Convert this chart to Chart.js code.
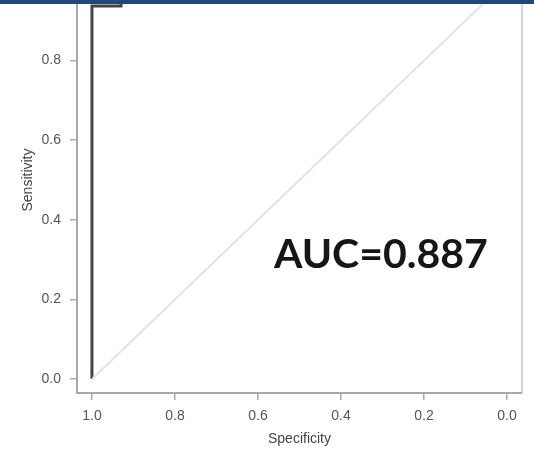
<!DOCTYPE html>
<html>
<head>
<meta charset="utf-8">
<script src="https://cdn.jsdelivr.net/npm/chart.js@4.4.0/dist/chart.umd.min.js"></script>
<style>
  html, body { margin:0; padding:0; background:#fff; overflow:hidden; }
  #wrap { position:relative; width:534px; height:451px; overflow:hidden; }
  #c { position:absolute; left:0; top:-40px; }
  #bar { position:absolute; left:0; top:0; width:534px; height:4px; background:#1f497d; z-index:2; }
</style>
</head>
<body>
<div id="wrap">
  <canvas id="c" width="534" height="491"></canvas>
  <div id="bar"></div>
</div>
<script>
// ROC curve (specificity, sensitivity)
const rocSpecificity = [1.0, 1.0, 0.93, 0.93, 0.0];
const rocSensitivity = [0.0, 0.937, 0.937, 1.0, 1.0];
// reference diagonal
const diagSpecificity = [1.0, 0.0];
const diagSensitivity = [0.0, 1.0];
// tick labels (the 1.0 sensitivity tick lies above the cropped top edge)
const xTicks = [1.0, 0.8, 0.6, 0.4, 0.2, 0.0];
const yTicks = [0.0, 0.2, 0.4, 0.6, 0.8, 1.0];
const aucLabel = "AUC=0.887";
const aucPos = { x: 0.304, y: 0.313 };

const roc = rocSpecificity.map((s, i) => ({ x: s, y: rocSensitivity[i] }));
const diag = diagSpecificity.map((s, i) => ({ x: s, y: diagSensitivity[i] }));

const boxPlugin = {
  id: 'box',
  beforeDatasetsDraw(chart) {
    const a = chart.chartArea, ctx = chart.ctx;
    ctx.save();
    ctx.strokeStyle = '#c8c8c8';
    ctx.lineWidth = 1.5;
    ctx.beginPath();
    ctx.moveTo(a.left, a.top);
    ctx.lineTo(a.right, a.top);
    ctx.lineTo(a.right, a.bottom);
    ctx.stroke();
    ctx.restore();
  },
  afterDatasetsDraw(chart) {
    const ctx = chart.ctx;
    const x = chart.scales.x.getPixelForValue(aucPos.x);
    const y = chart.scales.y.getPixelForValue(aucPos.y);
    ctx.save();
    ctx.font = 'bold 41px Lato, "Open Sans", sans-serif';
    ctx.fillStyle = '#161616';
    ctx.textAlign = 'center';
    ctx.textBaseline = 'middle';
    ctx.fillText(aucLabel, x, y);
    ctx.restore();
  }
};

const tickFont = { family: '"Liberation Sans", Arial, sans-serif', size: 14 };
const titleFont = { family: '"Liberation Sans", Arial, sans-serif', size: 14 };

new Chart(document.getElementById('c'), {
  type: 'scatter',
  data: {
    datasets: [
      { data: diag, showLine: true, borderColor: '#e0e0e0', borderWidth: 1.8, pointRadius: 0 },
      { data: roc, showLine: true, borderColor: '#444', borderWidth: 3, pointRadius: 0 }
    ]
  },
  options: {
    responsive: false,
    animation: false,
    events: [],
    layout: { padding: { top: 7, right: 12, left: 0, bottom: 0 } },
    plugins: { legend: { display: false }, tooltip: { enabled: false } },
    scales: {
      x: {
        type: 'linear', reverse: true, min: -0.036, max: 1.036,
        afterBuildTicks: s => { s.ticks = xTicks.map(v => ({ value: v })); },
        afterFit: s => { s.height = 58; s.paddingLeft = 0; s.paddingRight = 0; },
        ticks: { color: '#555', font: tickFont, padding: 8, maxRotation: 0,
                 callback: v => Number(v).toFixed(1) },
        grid: { display: true, drawOnChartArea: false, drawTicks: true, tickLength: 7,
                color: '#aaa', lineWidth: 1.5 },
        border: { display: true, color: '#a8a8a8', width: 2 },
        title: { display: true, text: 'Specificity', color: '#444', font: titleFont,
                 padding: { top: 0, bottom: 3 } }
      },
      y: {
        type: 'linear', min: -0.035, max: 1.035,
        afterBuildTicks: s => { s.ticks = yTicks.map(v => ({ value: v })); },
        afterFit: s => { s.width = 77; s.paddingTop = 0; s.paddingBottom = 0; },
        ticks: { color: '#555', font: tickFont, padding: 9,
                 callback: v => Number(v).toFixed(1) },
        grid: { display: true, drawOnChartArea: false, drawTicks: true, tickLength: 7,
                color: '#aaa', lineWidth: 1.5 },
        border: { display: true, color: '#a8a8a8', width: 2 },
        title: { display: true, text: 'Sensitivity', color: '#444', font: titleFont,
                 padding: { top: 20, bottom: 0 } }
      }
    }
  },
  plugins: [boxPlugin]
});
</script>
</body>
</html>
